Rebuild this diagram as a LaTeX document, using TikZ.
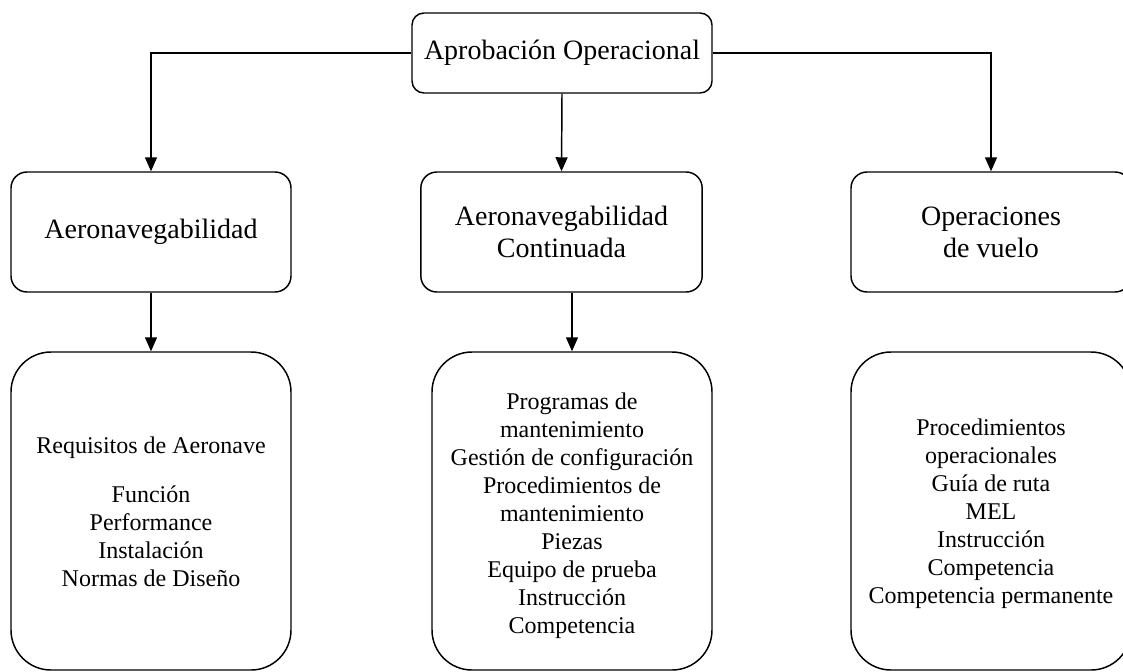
\documentclass[tikz,border=0pt]{standalone}
\usepackage{fontspec}
\setmainfont{Liberation Serif}
\usetikzlibrary{arrows.meta}
\begin{document}
\begin{tikzpicture}[x=0.75pt,y=-0.75pt,
  box/.style={draw=black,line width=1.1pt,align=center,inner sep=0pt},
  topbox/.style={box,rounded corners=9pt,minimum width=225pt,minimum height=60pt,font=\fontsize{21}{24}\selectfont},
  midbox/.style={box,rounded corners=12pt,minimum width=210pt,minimum height=90pt,font=\fontsize{21}{24}\selectfont},
  detbox/.style={box,rounded corners=30pt,minimum width=210pt,minimum height=238.5pt},
  dettext/.style={align=center,inner sep=0pt,font=\fontsize{18}{21}\selectfont},
  arr/.style={draw=black,line width=1.1pt,-{Triangle[width=9pt,length=10.5pt]}}]
\useasboundingbox (0,0) rectangle (1123,671);
\node[topbox] (top) at (562,53) {Aprobación Operacional};
\node[midbox] (aero) at (151,232) {Aeronavegabilidad};
\node[midbox,minimum width=211pt] (cont) at (561.5,232) {Aeronavegabilidad\\Continuada};
\node[midbox] (ops) at (991,232) {Operaciones\\de vuelo};
\node[detbox] (adet) at (151,511) {};
\node[detbox] (cdet) at (572,511) {};
\node[detbox] (odet) at (991,511) {};
\node[dettext] (atxt) at (151,512) {Requisitos de Aeronave\\[16pt]Función\\Performance\\Instalación\\Normas de Diseño};
\node[dettext] (ctxt) at (572,516) {Programas de\\mantenimiento\\Gestión de configuración\\Procedimientos de\\mantenimiento\\Piezas\\Equipo de prueba\\Instrucción\\Competencia};
\node[dettext] (otxt) at (991,514) {Procedimientos\\operacionales\\Guía de ruta\\MEL\\Instrucción\\Competencia\\Competencia permanente};
\draw[arr] (top.west) -| (aero.north);
\draw[arr] (top.east) -| (ops.north);
\draw[arr] (top.south) -- (cont.north);
\draw[arr] (aero.south) -- (adet.north);
\draw[arr] (cdet.north |- cont.south) -- (cdet.north);
\end{tikzpicture}
\end{document}
